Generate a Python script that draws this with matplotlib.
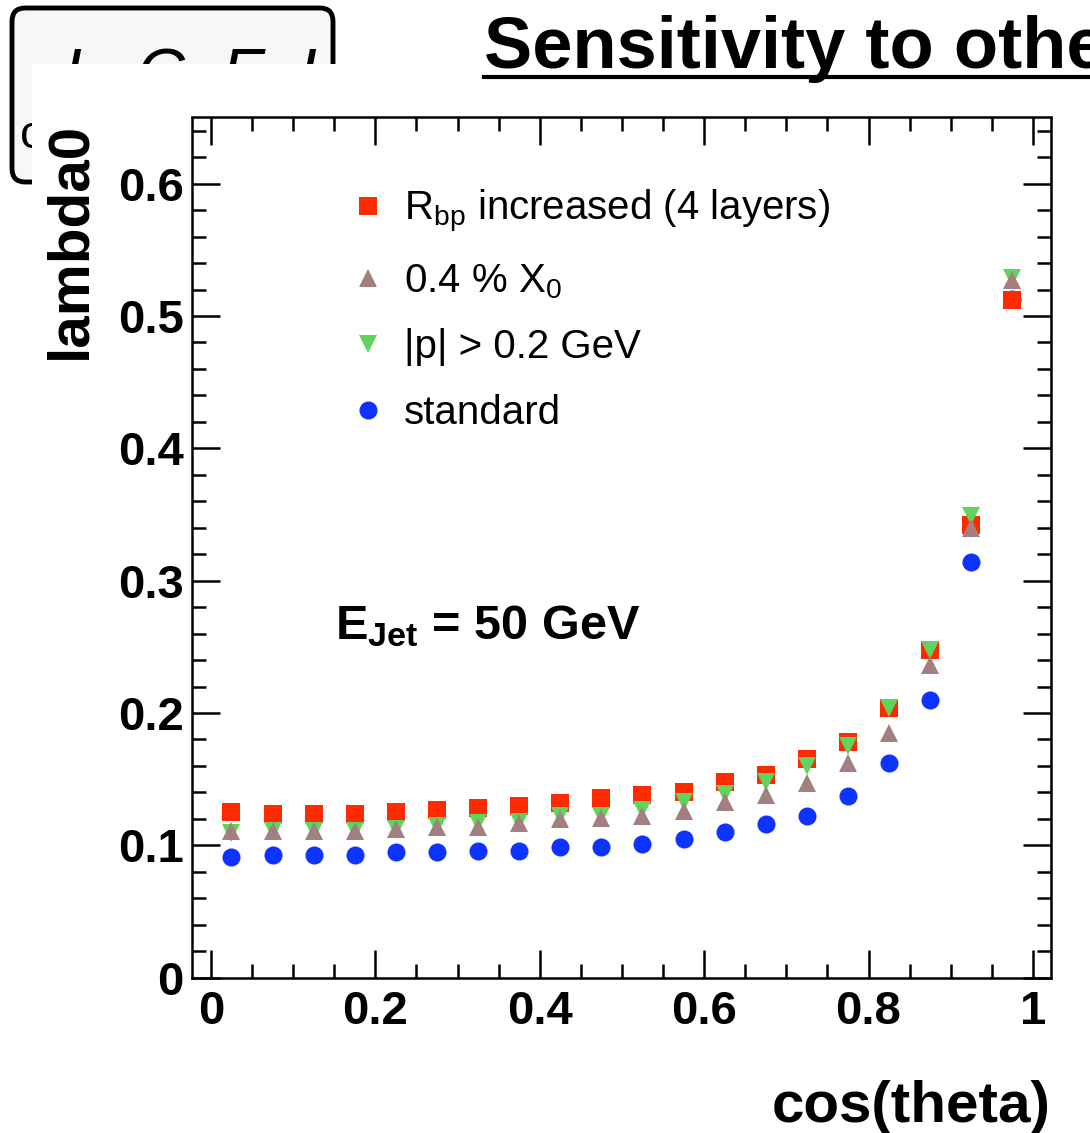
import matplotlib
matplotlib.use('Agg')
import matplotlib.pyplot as plt
from matplotlib.patches import FancyBboxPatch, Rectangle
from matplotlib.lines import Line2D
from matplotlib.ticker import MultipleLocator, FuncFormatter

# bin centres in cos(theta)
cos_theta = [0.025, 0.075, 0.125, 0.175, 0.225, 0.275, 0.325, 0.375, 0.425, 0.475,
             0.525, 0.575, 0.625, 0.675, 0.725, 0.775, 0.825, 0.875, 0.925, 0.975]

# lambda0 for each configuration
rbp_increased = [0.125, 0.124, 0.124, 0.124, 0.125, 0.127, 0.128, 0.130, 0.132, 0.136,
                 0.138, 0.140, 0.148, 0.153, 0.165, 0.178, 0.204, 0.248, 0.342, 0.512]
x0_04 = [0.111, 0.111, 0.111, 0.111, 0.112, 0.114, 0.114, 0.117, 0.120, 0.121,
         0.122, 0.126, 0.133, 0.138, 0.147, 0.162, 0.185, 0.236, 0.340, 0.527]
p_cut = [0.109, 0.111, 0.111, 0.111, 0.112, 0.115, 0.117, 0.118, 0.122, 0.122,
         0.127, 0.133, 0.139, 0.148, 0.160, 0.175, 0.204, 0.248, 0.349, 0.529]
standard = [0.091, 0.093, 0.093, 0.093, 0.095, 0.095, 0.096, 0.096, 0.099, 0.099,
            0.101, 0.105, 0.110, 0.116, 0.122, 0.137, 0.162, 0.210, 0.314, 0.513]

labels = [r'R$_{\rm bp}$ increased (4 layers)', r'0.4 % X$_{\rm 0}$',
          '|p| > 0.2 GeV', 'standard']

plt.rcParams['font.family'] = ['Liberation Sans', 'DejaVu Sans']
plt.rcParams['mathtext.fontset'] = 'custom'
plt.rcParams['mathtext.rm'] = 'Liberation Sans'
plt.rcParams['mathtext.it'] = 'Liberation Sans:italic'
plt.rcParams['mathtext.bf'] = 'Liberation Sans:bold'

W, H = 1090, 1133
fig = plt.figure(figsize=(W / 100, H / 100), dpi=100)


def fx(x):
    return x / W


def fy(y):
    return 1 - y / H


# slide logo behind the pasted canvas
logo = FancyBboxPatch((fx(12), fy(182)), fx(321), (182 - 8) / H,
                      boxstyle='round,pad=0,rounding_size=0.012',
                      transform=fig.transFigure, facecolor='#f5f8f5',
                      edgecolor='black', linewidth=3.5, zorder=1)
fig.add_artist(logo)
fig.text(fx(64), fy(95), 'L  C  F  I', fontsize=48, style='italic',
         color='black', zorder=1.5, va='baseline')
fig.text(fx(20), fy(148), 'c', fontsize=34, color='black', zorder=1.5,
         va='baseline')

# white root canvas pasted on the slide
canvas = Rectangle((fx(32), 0), 1 - fx(32), fy(64), transform=fig.transFigure,
                   facecolor='white', edgecolor='none', zorder=2)
fig.add_artist(canvas)

# slide title, underlined (cut at the right edge as on the slide)
fig.text(fx(484), fy(68), 'Sensitivity to other parameters', fontsize=52,
         fontweight='bold', va='baseline', zorder=10)
fig.add_artist(Line2D([fx(484), 1.0], [fy(77), fy(77)], color='black',
                      linewidth=3, transform=fig.transFigure, zorder=10))

ax = fig.add_axes([fx(192), fy(977.7), fx(1051 - 192), (977.7 - 117.5) / H])
ax.set_zorder(5)

ms = 13
h_std, = ax.plot(cos_theta, standard, 'o', color='#0f33ff', ms=ms, mew=0, zorder=3)
h_rbp, = ax.plot(cos_theta, rbp_increased, 's', color='#ff2a00', ms=ms, mew=0, zorder=4)
h_p, = ax.plot(cos_theta, p_cut, 'v', color='#5fd45f', ms=ms, mew=0, zorder=5)
h_x0, = ax.plot(cos_theta, x0_04, '^', color='#a37f7f', ms=ms, mew=0, zorder=6)

ax.set_xlim(-0.023, 1.022)
ax.set_ylim(0, 0.65)

ax.xaxis.set_major_locator(MultipleLocator(0.2))
ax.xaxis.set_minor_locator(MultipleLocator(0.05))
ax.yaxis.set_major_locator(MultipleLocator(0.1))
ax.yaxis.set_minor_locator(MultipleLocator(0.02))
fmt = FuncFormatter(lambda v, pos: f'{v:.10g}')
ax.xaxis.set_major_formatter(fmt)
ax.yaxis.set_major_formatter(fmt)

for s in ax.spines.values():
    s.set_linewidth(1.8)
ax.tick_params(which='both', direction='in', top=True, right=True, width=1.8,
               labelsize=34)
ax.tick_params(which='major', length=20)
ax.tick_params(which='minor', length=10)
ax.tick_params(axis='x', pad=9)
ax.tick_params(axis='y', pad=6)
for lab in ax.get_xticklabels() + ax.get_yticklabels():
    lab.set_fontweight('bold')

ax.set_xlabel('cos(theta)', fontsize=42, fontweight='bold', loc='right')
ax.xaxis.set_label_coords(1.0, -0.119)
ax.set_ylabel('lambda0', fontsize=42, fontweight='bold', loc='top')
ax.yaxis.set_label_coords(-0.1106, 0.995)

ax.text(0.166, 0.393, r'E$_{\mathbf{Jet}}$ = 50 GeV', fontsize=35,
        fontweight='bold', transform=ax.transAxes, va='baseline')

ax.legend([h_rbp, h_x0, h_p, h_std], labels, loc='upper left',
          bbox_to_anchor=(0.186, 0.918), frameon=False, fontsize=29,
          handlelength=0.8, handletextpad=0.5, labelspacing=0.68,
          borderpad=0, borderaxespad=0, numpoints=1)

fig.savefig('out.png', dpi=100)
